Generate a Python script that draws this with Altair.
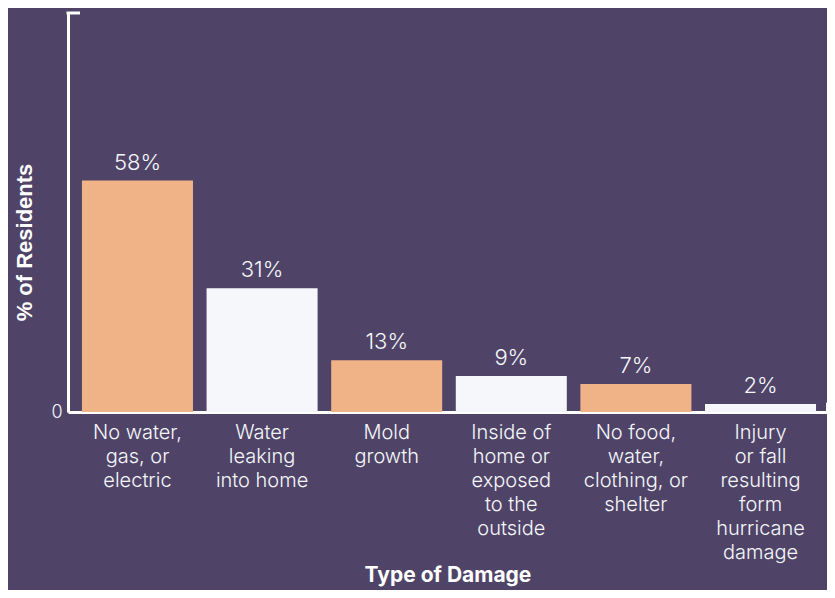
import altair as alt
import pandas as pd

categories = [
    "No water,\ngas, or\nelectric",
    "Water\nleaking\ninto home",
    "Mold\ngrowth",
    "Inside of\nhome or\nexposed\nto the\noutside",
    "No food,\nwater,\nclothing, or\nshelter",
    "Injury\nor fall\nresulting\nform\nhurricane\ndamage",
]
values = [58, 31, 13, 9, 7, 2]
bar_colors = ["#f0b287", "#f5f7fa", "#f0b287", "#f5f7fa", "#f0b287", "#f5f7fa"]

BG = "#4f4468"
FONT = "Inter"

df = pd.DataFrame({"cat": categories, "val": values, "label": [f"{v}%" for v in values]})

W, H = 759, 399

x = alt.X(
    "cat:N",
    sort=categories,
    scale=alt.Scale(paddingInner=0.109, paddingOuter=0.10, align=0.56),
    axis=alt.Axis(
        title="Type of Damage",
        labelExpr="split(datum.label, '\\n')",
        labelAngle=0,
        labelFont=FONT,
        labelFontSize=20,
        labelFontWeight=300,
        labelLineHeight=24,
        labelColor="#f5f7fa",
        labelPadding=10,
        labelBaseline="top",
        ticks=False,
        domainColor="#ffffff",
        domainWidth=3,
        titleFont=FONT,
        titleFontSize=21,
        titleFontWeight="bold",
        titleColor="#ffffff",
        titleY=163,
        titleBaseline="middle",
    ),
)

y = alt.Y(
    "val:Q",
    scale=alt.Scale(domain=[0, 100], nice=False),
    axis=alt.Axis(
        title="% of Residents",
        values=[0],
        grid=False,
        ticks=False,
        labelFont=FONT,
        labelFontSize=18,
        labelFontWeight=300,
        labelColor="#f5f7fa",
        labelPadding=6,
        domainColor="#ffffff",
        domainWidth=3,
        titleFont="Liberation Sans",
        titleFontSize=22,
        titleFontWeight="bold",
        titleColor="#ffffff",
        titleX=-44,
        titleY=229,
        titleBaseline="middle",
    ),
)

bars = alt.Chart(df).mark_bar().encode(
    x=x,
    y=y,
    color=alt.Color("cat:N", sort=categories,
                    scale=alt.Scale(domain=categories, range=bar_colors), legend=None),
)

text = alt.Chart(df).mark_text(
    font=FONT, fontSize=22, fontWeight=300, color="#f5f7fa", baseline="alphabetic", dy=-11
).encode(x=alt.X("cat:N", sort=categories), y="val:Q", text="label:N")

top_tick = alt.Chart(pd.DataFrame({"v": [100]})).mark_rule(
    color="#ffffff", strokeWidth=3
).encode(y=alt.Y("v:Q"), x=alt.value(-1.5), x2=alt.value(12))

right_tick = alt.Chart(pd.DataFrame({"a": [0], "b": [2.3]})).mark_rule(
    color="#ffffff", strokeWidth=2
).encode(x=alt.value(W), y=alt.Y("a:Q"), y2="b:Q")

chart = (
    alt.layer(bars, text, top_tick, right_tick)
    .properties(
        width=W,
        height=H,
        background=BG,
        autosize=alt.AutoSizeParams(type="none"),
        padding={"left": 60, "top": 5, "right": 0, "bottom": 178},
    )
    .configure_view(stroke=None)
)

chart.save("out.html", embed_options={"renderer": "svg", "actions": False})
